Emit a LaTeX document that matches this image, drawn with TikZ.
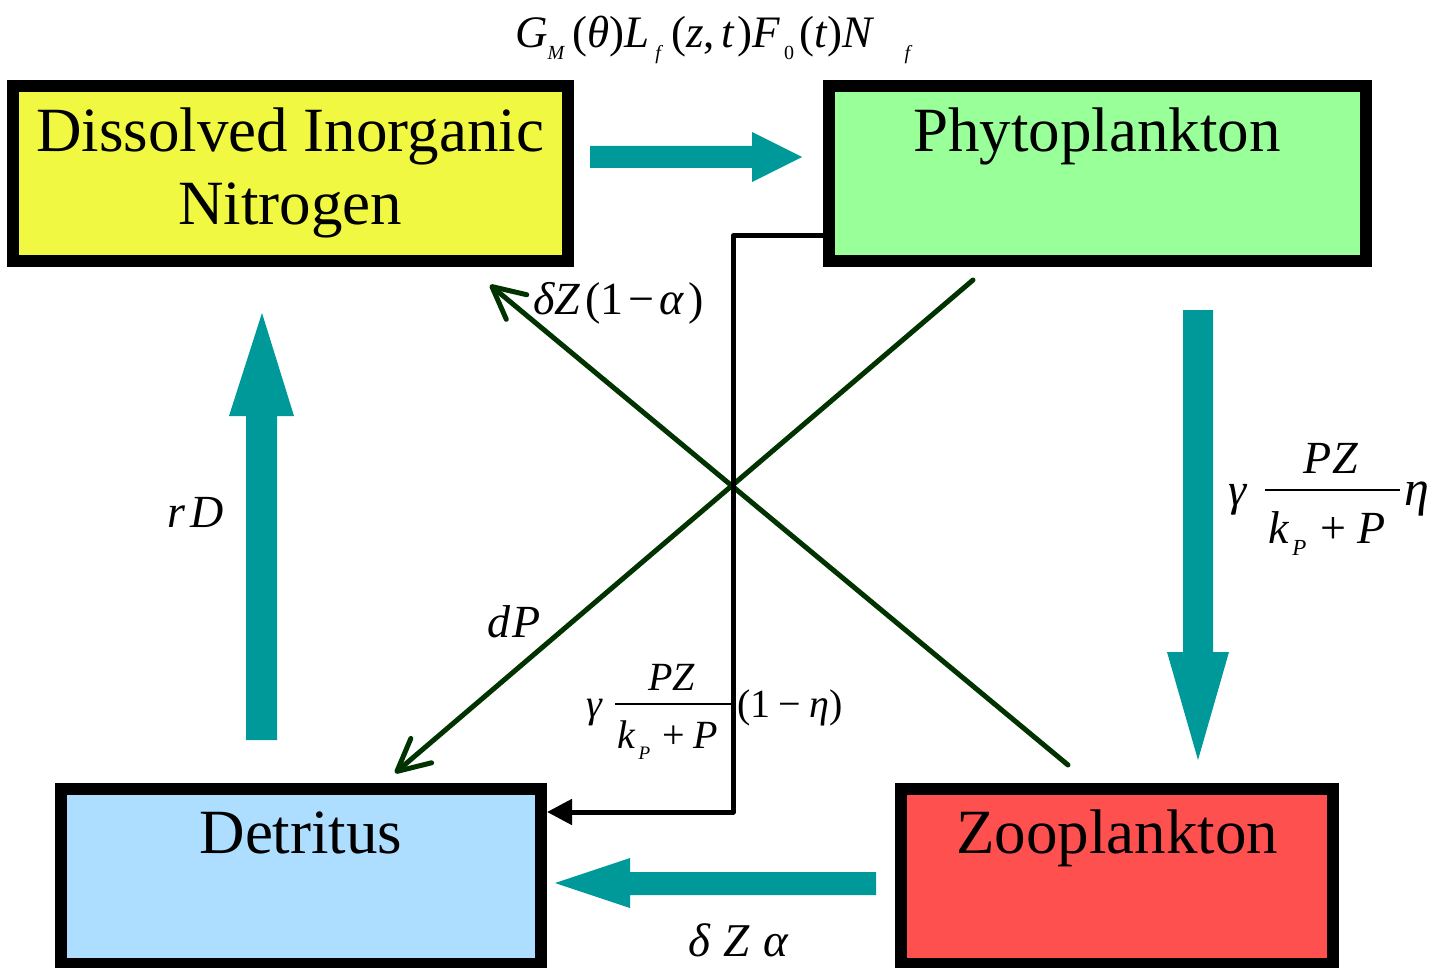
\documentclass[tikz,border=0pt]{standalone}
\usepackage{fontspec}
\setmainfont{Liberation Serif}
\usetikzlibrary{arrows.meta}
\definecolor{flowteal}{RGB}{0,153,153}
\definecolor{dinfill}{RGB}{240,248,66}
\definecolor{phyfill}{RGB}{153,255,153}
\definecolor{detfill}{RGB}{173,222,255}
\definecolor{zoofill}{RGB}{255,80,80}
\definecolor{lossgreen}{RGB}{0,51,0}
\newcommand{\dsub}[3]{\raisebox{#1}{\fontsize{#2}{#2}\selectfont #3}}
\begin{document}
\begin{tikzpicture}[x=1pt,y=-1pt,
  poolbox/.style={draw=black, line width=12pt, inner sep=0pt, outer sep=0pt, minimum height=175pt},
  boxtext/.style={anchor=base, align=center, font=\fontsize{63}{73}\selectfont},
  eqtext/.style={font=\fontsize{46}{46}\selectfont, inner sep=0pt},
  smalleq/.style={font=\fontsize{40}{40}\selectfont, inner sep=0pt},
  bigflow/.style={fill=flowteal},
  lossline/.style={draw=lossgreen, line width=5pt, line cap=round, -{Straight Barb[length=32pt,width=32pt,round]}},
  egestline/.style={draw=black, line width=5pt, line join=round, -{Triangle[length=25pt,width=25pt]}}
]
\useasboundingbox (0,0) rectangle (1450,968);

% pools
\node[poolbox, fill=dinfill, minimum width=555pt] (din) at (290.5,173.5) {};
\node[poolbox, fill=phyfill, minimum width=537pt] (phy) at (1097.5,173.5) {};
\node[poolbox, fill=detfill, minimum width=480pt] (det) at (301,876.5) {};
\node[poolbox, fill=zoofill, minimum width=432pt] (zoo) at (1117,876.5) {};

\node[boxtext] (dintext) at (290,225) {Dissolved Inorganic\\Nitrogen};
\node[boxtext] (phytext) at (1097,152) {Phytoplankton};
\node[boxtext] (dettext) at (301,853) {Detritus};
\node[boxtext] (zootext) at (1117,853) {Zooplankton};

% big teal flows (block arrows)
\fill[bigflow] (590,146) -- (752,146) -- (752,132) -- (802,157) -- (752,182) -- (752,168) -- (590,168) -- cycle;
\fill[bigflow] (1183,310) -- (1213,310) -- (1213,652) -- (1229,652) -- (1198,760) -- (1167,652) -- (1183,652) -- cycle;
\fill[bigflow] (876,872) -- (630,872) -- (630,858) -- (555,883) -- (630,908) -- (630,895) -- (876,895) -- cycle;
\fill[bigflow] (246,740) -- (246,416) -- (229,416) -- (262,313) -- (294,416) -- (277,416) -- (277,740) -- cycle;

% thin loss lines
\coordinate (mortS) at (973,280); \coordinate (mortE) at (395,773);
\coordinate (excS) at (1068,765); \coordinate (excE) at (490,285);
\draw[lossline] (mortS) -- (mortE);
\draw[lossline] (excS) -- (excE);

% sloppy feeding path
\coordinate (sfA) at (826,236);
\coordinate (sfB) at (733,236);
\coordinate (sfC) at (733,812);
\coordinate (sfD) at (547,812);
\draw[egestline] (sfA) -- (sfB) -- (sfC) -- (sfD);

% labels
\node[anchor=base west, font=\fontsize{45}{45}\selectfont, inner sep=0pt] (uptake) at (515,48)
  {\textit{G}\dsub{-12pt}{20}{\textit{M}}\hspace{7pt}(\textit{θ})\textit{L}\hspace{6pt}\dsub{-12pt}{20}{\textit{f}}\hspace{8pt}(\textit{z},\hspace{7pt}\textit{t}\hspace{2pt})\textit{F}\hspace{4pt}\dsub{-12pt}{20}{0}\hspace{5pt}(\textit{t})\textit{N}\hspace{30pt}\dsub{-12pt}{20}{\textit{f}}};

\node[eqtext, anchor=base west] (exclab) at (533,314)
  {\textit{δZ}\hspace{5pt}(1\hspace{5pt}−\hspace{5pt}\textit{α}\hspace{4pt})};

\node[eqtext, anchor=base west] (rdlab) at (167,527) {\textit{r\hspace{5pt}D}};
\node[eqtext, anchor=base west] (dplab) at (487,637) {\textit{d\hspace{2pt}P}};

\node[font=\fontsize{47}{47}\selectfont, inner sep=0pt, anchor=base west] (eglab) at (688,956)
  {\textit{δ}\hspace{13pt}\textit{Z}\hspace{13pt}\textit{α}};

% grazing label (right)
\node[eqtext, anchor=base west] (grgam) at (1228,505) {\textit{γ}};
\node[eqtext, anchor=base] (grnum) at (1331,473) {\textit{PZ}};
\draw[line width=1.8pt] (1265,490) -- (1400,490);
\node[eqtext, anchor=base west] (grden) at (1268,543)
  {\textit{k}\hspace{3pt}\dsub{-12pt}{23}{\textit{P}}\hspace{14pt}+\hspace{11pt}\textit{P}};
\node[font=\fontsize{50}{50}\selectfont, inner sep=0pt, anchor=base west] (greta) at (1404,505) {\textit{η}};

% sloppy feeding label (middle)
\node[smalleq, anchor=base west] (sfgam) at (586,717) {\textit{γ}};
\node[smalleq, anchor=base] (sfnum) at (672,690) {\textit{PZ}};
\draw[line width=1.5pt] (615,704) -- (731,704);
\node[smalleq, anchor=base west] (sfden) at (617,748)
  {\textit{k}\hspace{3pt}\dsub{-11pt}{19}{\textit{P}}\hspace{12pt}+\hspace{9pt}\textit{P}};
\node[smalleq, anchor=base west] (sfeta) at (737,717)
  {(1\hspace{8pt}−\hspace{8pt}\textit{η}\hspace{1pt})};
\end{tikzpicture}
\end{document}
